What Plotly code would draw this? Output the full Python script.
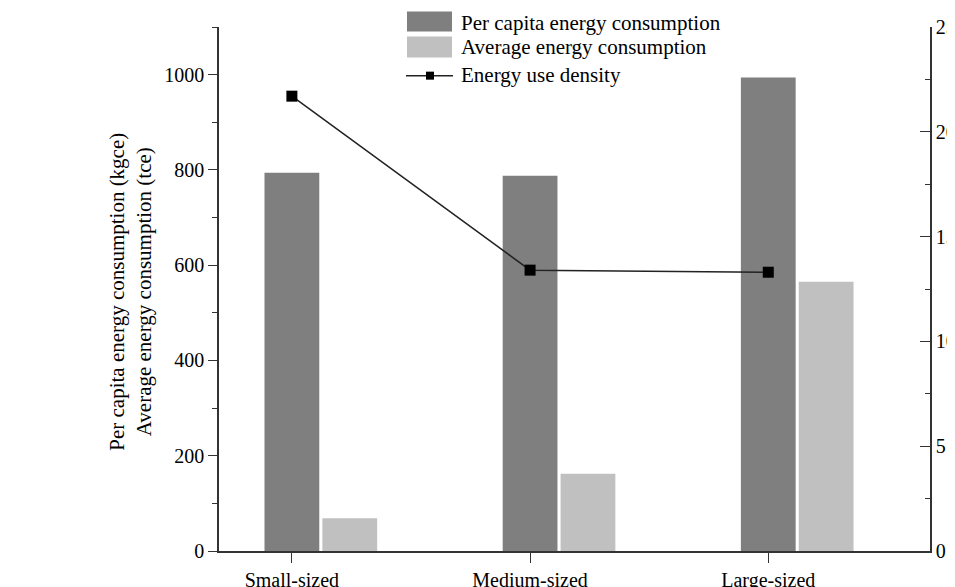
import plotly.graph_objects as go

categories = ["Small-sized", "Medium-sized", "Large-sized"]
per_capita = [794, 788, 994]
average = [69, 162, 565]
density = [21.7, 13.4, 13.3]

legend_names = ["Per capita energy consumption", "Average energy consumption", "Energy use density"]
dark, light = "#7f7f7f", "#c0c0c0"

xpos = list(range(len(categories)))
FONT = "Liberation Serif, Times New Roman, serif"
bw = 0.23

fig = go.Figure()
fig.add_trace(go.Bar(x=xpos, y=per_capita, name=legend_names[0],
                     marker=dict(color=dark, line=dict(width=0)),
                     width=bw, offset=-bw / 2))
fig.add_trace(go.Bar(x=xpos, y=average, name=legend_names[1],
                     marker=dict(color=light, line=dict(width=0)),
                     width=bw, offset=bw / 2 + 0.013))
fig.add_trace(go.Scatter(x=xpos, y=density, name=legend_names[2], yaxis="y2",
                         mode="lines+markers",
                         line=dict(color="#222222", width=1.5),
                         marker=dict(symbol="square", size=11, color="black")))

# custom legend (wide swatches like the original)
shapes = [
    dict(type="rect", xref="paper", yref="paper", x0=0.2644, x1=0.3277, y0=0.9912, y1=1.0294,
         fillcolor=dark, line=dict(width=0)),
    dict(type="rect", xref="paper", yref="paper", x0=0.2644, x1=0.3277, y0=0.9416, y1=0.9817,
         fillcolor=light, line=dict(width=0)),
    dict(type="line", xref="paper", yref="paper", x0=0.263, x1=0.3291, y0=0.9072, y1=0.9072,
         line=dict(color="#222222", width=1.5)),
    dict(type="rect", xref="paper", yref="paper", x0=0.2911, x1=0.3024, y0=0.8995, y1=0.9148,
         fillcolor="black", line=dict(width=0)),
]
annotations = [
    dict(xref="paper", yref="paper", x=0.3376, y=yy, text=t, showarrow=False,
         xanchor="left", yanchor="middle", font=dict(size=21, family=FONT, color="black"))
    for t, yy in zip(legend_names, [1.0076, 0.9626, 0.9091])
]
annotations.append(dict(xref="paper", yref="paper", x=-0.125, y=0.495,
                        text="Per capita energy consumption (kgce)<br>Average energy consumption (tce)",
                        textangle=-90, showarrow=False, xanchor="center", yanchor="middle",
                        font=dict(size=21, family=FONT, color="black")))

fig.update_layout(
    width=955, height=587,
    margin=dict(l=211, r=33, t=19, b=44),
    paper_bgcolor="white", plot_bgcolor="white",
    font=dict(family=FONT, size=20, color="black"),
    barmode="overlay",
    showlegend=False,
    shapes=shapes,
    annotations=annotations,
    xaxis=dict(range=[-0.306, 2.679], tickmode="array", tickvals=xpos, ticktext=categories,
               showline=True, linecolor="#333333", linewidth=1.5, ticks="outside",
               ticklen=10, tickcolor="#333333", showgrid=False, zeroline=False,
               automargin=False, tickfont=dict(size=20, family=FONT)),
    yaxis=dict(range=[0, 1100], tickvals=[0, 200, 400, 600, 800, 1000],
               showline=True, linecolor="#333333", linewidth=1.5, ticks="outside",
               ticklen=9, tickcolor="#333333", showgrid=False, zeroline=False,
               minor=dict(ticks="outside", ticklen=5, dtick=100, tickcolor="#333333", showgrid=False),
               automargin=False, tickfont=dict(size=20, family=FONT)),
    yaxis2=dict(range=[0, 25], tickvals=[0, 5, 10, 15, 20, 25], overlaying="y", side="right",
                showline=True, linecolor="#333333", linewidth=1.5, ticks="inside",
                ticklen=10, tickcolor="#333333", showgrid=False, zeroline=False,
                minor=dict(ticks="inside", ticklen=5, dtick=2.5, tickcolor="#333333", showgrid=False),
                automargin=False, tickfont=dict(size=20, family=FONT)),
)

fig.write_html("out.html")
